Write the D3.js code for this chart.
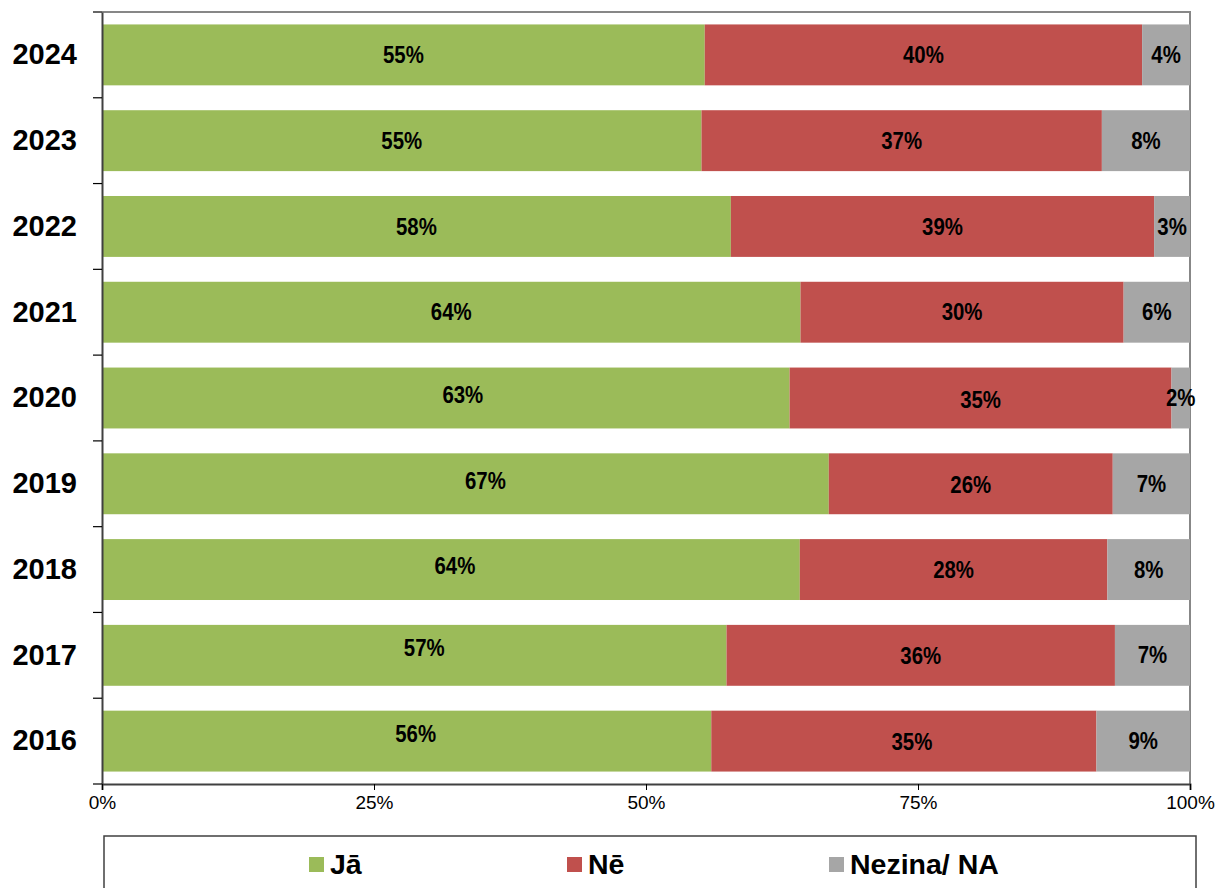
<!DOCTYPE html>
<html>
<head>
<meta charset="utf-8">
<script src="https://cdn.jsdelivr.net/npm/d3@7"></script>
<style>
  body { margin: 0; background: #fff; }
  .axis text { font-family: "Liberation Sans", Arial, sans-serif; fill: #000; }
  .seg-label { font-family: "Liberation Sans", Arial, sans-serif; font-weight: bold; font-size: 24px; fill: #000; }
</style>
</head>
<body>
<div id="chart"></div>
<script>
// years, top to bottom
var years = ['2024', '2023', '2022', '2021', '2020', '2019', '2018', '2017', '2016'];
var seriesNames = ['Jā', 'Nē', 'Nezina/ NA'];
// shares in percent
var ja      = [55.4, 55.1, 57.8, 64.2, 63.2, 66.8, 64.2, 57.4, 56.0];
var ne      = [40.2, 36.8, 38.9, 29.7, 35.1, 26.1, 28.3, 35.7, 35.4];
var nezina  = [ 4.4,  8.1,  3.3,  6.1,  1.7,  7.1,  7.6,  6.9,  8.6];
var xTicks = [0, 0.25, 0.5, 0.75, 1];

var colors = ['#9BBB59', '#C0504D', '#A6A6A6'];

// small label nudges (dx, dy), as the labels sit in the original
var greenNudge = [[0, 0], [0, 0], [0, 0], [0, 0], [17, -3], [20, -3], [4, -4], [10, -7], [9, -7]];
var redNudge   = [[0, 0], [0, 0], [0, 0], [0, 0], [0, 2], [0, 1], [0, 0], [0, 1], [8, 1]];

var margin = {top: 12, right: 28, bottom: 104, left: 102};
var width = 1218 - margin.left - margin.right;
var height = 888 - margin.top - margin.bottom;

var svg = d3.select('#chart')
  .append('svg')
    .attr('width', 1218)
    .attr('height', 888)
  .append('g')
    .attr('transform', 'translate(' + margin.left + ',' + margin.top + ')');

// build rows
var rows = years.map(function(y, i) {
  return {year: y, 'Jā': ja[i], 'Nē': ne[i], 'Nezina/ NA': nezina[i]};
});
var stack = d3.stack().keys(seriesNames).offset(d3.stackOffsetExpand);
var stacked = stack(rows);

var x = d3.scaleLinear().domain([0, 1]).range([0, width]);
var y = d3.scaleBand().domain(years).range([0, height])
  .paddingInner(0.29).paddingOuter(0.145);

// plot frame (top and right)
svg.append('path')
  .attr('d', 'M0,0H' + width + 'V' + height)
  .attr('fill', 'none')
  .attr('stroke', '#878787')
  .attr('stroke-width', 2);

// bars
var layer = svg.selectAll('g.layer')
  .data(stacked)
  .enter().append('g')
    .attr('class', 'layer')
    .attr('fill', function(d, i) { return colors[i]; });

layer.selectAll('rect')
  .data(function(d) { return d; })
  .enter().append('rect')
    .attr('x', function(d) { return x(d[0]); })
    .attr('y', function(d) { return y(d.data.year); })
    .attr('width', function(d) { return x(d[1]) - x(d[0]); })
    .attr('height', y.bandwidth());

// value labels (squeezed horizontally to look like a narrow face)
layer.each(function(s, si) {
  d3.select(this).selectAll('text')
    .data(s)
    .enter().append('text')
      .attr('class', 'seg-label')
      .attr('text-anchor', 'middle')
      .attr('dominant-baseline', 'central')
      .attr('transform', function(d, i) {
        var n = si === 0 ? greenNudge[i] : si === 1 ? redNudge[i] : [0, 0];
        var cx = (x(d[0]) + x(d[1])) / 2 + n[0];
        var cy = y(d.data.year) + y.bandwidth() / 2 + n[1];
        return 'translate(' + cx + ',' + cy + ') scale(0.85,1)';
      })
      .text(function(d) { return Math.round(d.data[s.key]) + '%'; });
});

// y axis: labels at band centres, ticks at band edges
var yAxis = svg.append('g')
  .attr('class', 'axis')
  .call(d3.axisLeft(y).tickSize(0).tickPadding(25));
yAxis.select('.domain').attr('stroke', '#404040').attr('stroke-width', 2);
yAxis.selectAll('text')
  .attr('font-size', 29)
  .attr('font-weight', 'bold');

var edges = years.map(function(d) { return y(d) - y.step() * y.paddingInner() / 2; });
edges.push(height);
svg.append('g')
  .selectAll('line')
  .data(edges)
  .enter().append('line')
    .attr('x1', -9).attr('x2', 0)
    .attr('y1', function(d) { return d; })
    .attr('y2', function(d) { return d; })
    .attr('stroke', '#000')
    .attr('stroke-width', 1.2);

// x axis
var xAxis = svg.append('g')
  .attr('class', 'axis')
  .attr('transform', 'translate(0,' + height + ')')
  .call(d3.axisBottom(x).tickValues(xTicks).tickFormat(d3.format('.0%')).tickSize(6).tickPadding(6));
xAxis.select('.domain').attr('stroke', '#404040').attr('stroke-width', 2);
xAxis.selectAll('.tick line').attr('stroke', '#000');
xAxis.selectAll('text').attr('font-size', 19);

// legend
var legend = d3.select('svg').append('g')
  .attr('transform', 'translate(104,836)');
legend.append('rect')
  .attr('width', 1092)
  .attr('height', 70)
  .attr('fill', '#fff')
  .attr('stroke', '#404040')
  .attr('stroke-width', 1.5);

var legendX = [205, 463, 725];
var item = legend.selectAll('g.item')
  .data(seriesNames)
  .enter().append('g')
    .attr('class', 'item')
    .attr('transform', function(d, i) { return 'translate(' + legendX[i] + ',0)'; });
item.append('rect')
  .attr('y', 21)
  .attr('width', 15)
  .attr('height', 15)
  .attr('fill', function(d, i) { return colors[i]; });
item.append('text')
  .attr('x', 21)
  .attr('y', 28)
  .attr('dominant-baseline', 'central')
  .attr('font-family', '"Liberation Sans", Arial, sans-serif')
  .attr('font-weight', 'bold')
  .attr('font-size', 28.5)
  .text(function(d) { return d; });
</script>
</body>
</html>
